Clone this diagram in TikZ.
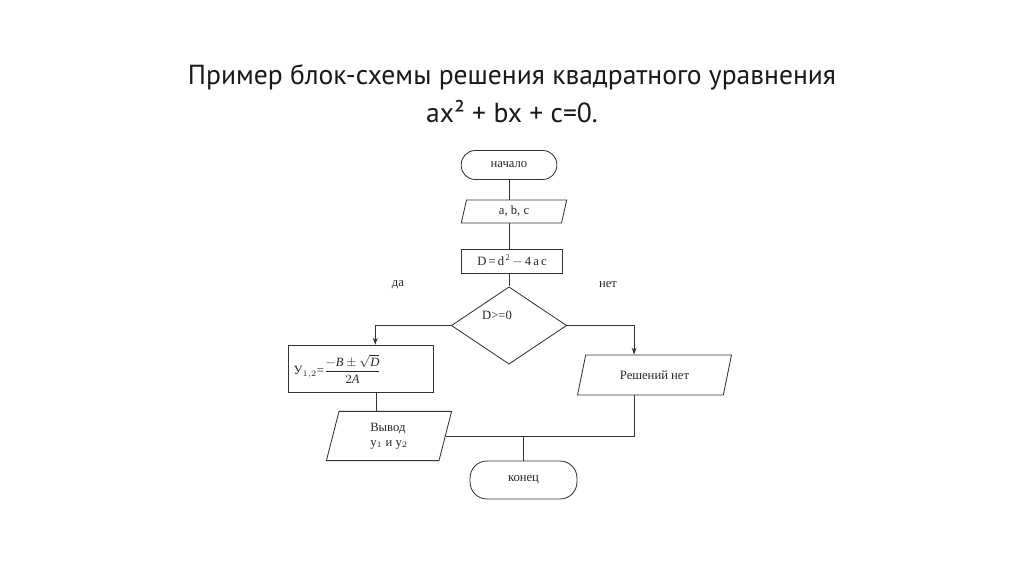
\documentclass[tikz,border=0pt]{standalone}
\usepackage{fontspec}
\setmainfont{Liberation Serif}
\newfontfamily\titlefont{PT Sans}
\usetikzlibrary{shapes.geometric,arrows.meta}

\begin{document}
\begin{tikzpicture}[x=0.025cm,y=-0.025cm,
  every node/.style={font=\fontsize{9}{10.5}\selectfont,text=black!85},
  ln/.style={draw=black!80,line width=0.6pt},
  term/.style={ln,rectangle,rounded corners=#1,inner sep=0pt},
  blk/.style={ln,rectangle,inner sep=0pt},
  io/.style n args={2}{ln,trapezium,trapezium left angle=#1,trapezium right angle=#2,trapezium stretches body,inner sep=0pt},
  arr/.style={ln,-{Stealth[length=5pt,width=3.5pt]}}]
\useasboundingbox (0,0) rectangle (1024,574);
\node[font=\titlefont\fontsize{19.6}{27}\selectfont,text=black!90,align=center] (title) at (512,94)
   {Пример блок-схемы решения квадратного уравнения\\ax² + bx + c=0.};
\node[term=10pt,minimum width=68pt,minimum height=20.6pt] (nach) at (509,165) {начало};
\node[io={64}{116},minimum width=75pt,minimum height=16.4pt] (abc) at (514,211.5) {a, b, c};
\node[blk,minimum width=72pt,minimum height=17pt] (dbox) at (512,261) {D\,=\,d\textsuperscript{\,2}\,$-$\,4\,a\,c};
\node[ln,diamond,minimum width=82pt,minimum height=55pt,inner sep=0pt] (dia) at (509,325.5) {};
\node (dlab) at (497,315) {D>=0};
\node (yes) at (398,285) {да};
\node (no) at (608,285) {нет};
\node[blk,minimum width=103pt,minimum height=34pt,text width=95pt,align=left] (form) at (360.5,369)
   {У$_{1{,}2}$=$\displaystyle\frac{-\mathit{B}\pm\sqrt{\mathit{D}}}{2\mathit{A}}$};
\node[io={47}{133},minimum width=109.5pt,minimum height=28.5pt] (rn) at (654.5,375) {Решений нет};
\node[io={64}{116},minimum width=89pt,minimum height=35pt,align=left] (vyv) at (389,436) {Вывод\\у$_1$ и у$_2$};
\node[term=12pt,minimum width=76pt,minimum height=27pt] (kon) at (523.5,480) {конец};
\draw[ln] (nach.south) -- (nach.south |- abc.north);
\draw[ln] (nach.south |- abc.south) -- (nach.south |- dbox.north);
\draw[ln] (nach.south |- dbox.south) -- (dia.north);
\draw[arr] (dia.west) -| ([xshift=10.5pt]form.north);
\draw[arr] (dia.east) -| ([xshift=-14.5pt]rn.north);
\draw[ln] ([xshift=11.5pt]form.south) -- ([xshift=11.5pt]form.south |- vyv.north);
\draw[ln] ([xshift=-14.5pt]rn.south) |- (vyv.east);
\draw[ln] (kon.north) -- (kon.north |- vyv.east);
\end{tikzpicture}
\end{document}
